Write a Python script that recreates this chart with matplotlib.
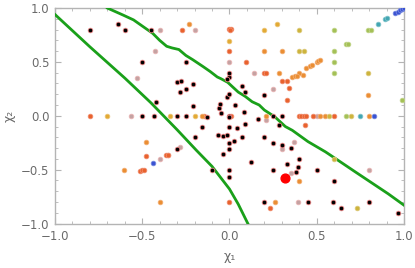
#!/usr/bin/env python3
import numpy as np
import matplotlib
matplotlib.use("Agg")
import matplotlib.pyplot as plt
from matplotlib.ticker import MultipleLocator

# scatter points, grouped by colour (x1, x2)
black_pts = [
    (-0.80, 0.80), (-0.64, 0.85), (-0.60, 0.80), (-0.45, 0.80), (-0.50, 0.50),
    (-0.25, 0.50), (-0.30, 0.31), (-0.28, 0.325), (-0.285, 0.22), (-0.25, 0.25),
    (-0.21, 0.295), (-0.21, 0.09), (-0.42, 0.125), (-0.50, 0.0), (-0.43, 0.0),
    (-0.30, 0.0), (-0.25, 0.0), (-0.13, -0.015), (-0.16, -0.10), (-0.20, -0.20),
    (-0.065, -0.18), (-0.035, -0.185), (-0.015, -0.18), (-0.06, 0.07),
    (-0.05, 0.025), (-0.056, 0.11), (-0.015, 0.175), (0.0, 0.20), (0.0, 0.36),
    (-0.015, 0.34), (0.0, 0.40), (0.07, 0.28), (0.09, 0.22), (0.20, 0.195),
    (0.03, 0.10), (0.085, 0.035), (0.0, 0.0), (0.0, -0.01), (0.165, -0.03),
    (0.25, 0.0), (0.30, 0.0), (0.285, -0.085), (0.09, -0.075), (0.043, -0.115),
    (0.0, -0.105), (0.025, -0.23), (0.07, -0.20), (0.0, -0.255), (0.0, -0.305),
    (0.20, -0.195), (0.25, -0.25), (0.30, -0.275), (0.355, -0.295), (0.40, -0.40),
    (0.125, -0.425), (-0.035, -0.355), (-0.30, -0.305), (-0.10, -0.50),
    (0.0, -0.50), (0.0, -0.565), (0.25, -0.50), (0.33, -0.45), (0.39, -0.475),
    (0.38, -0.52), (0.50, -0.50), (0.60, -0.605), (0.195, -0.80), (0.45, -0.80),
    (0.593, -0.80), (0.80, -0.80), (0.64, -0.855), (0.965, -0.905),
]
grey_pts = [
    (-0.40, 0.80), (-0.20, 0.80), (-0.425, 0.60), (-0.53, 0.35), (-0.565, 0.0),
    (-0.40, -0.40), (-0.35, -0.36), (-0.285, -0.29), (0.0, 0.50), (0.14, 0.40),
    (0.25, 0.25), (0.21, -0.04), (0.30, -0.305), (0.37, -0.245), (0.35, -0.53),
    (0.395, -0.80), (0.80, -0.50), (0.50, 0.0),
]
redorange_pts = [
    (-0.80, 0.0), (-0.145, 0.0), (-0.27, 0.80), (-0.48, -0.37), (-0.365, -0.36),
    (-0.355, -0.36), (-0.51, -0.51), (-0.50, -0.505), (-0.49, -0.50), (0.0, -0.80),
    (0.23, -0.855), (0.0, 0.81), (0.01, 0.81), (0.005, 0.80), (0.0, 0.60),
    (0.097, 0.50), (0.195, 0.40), (0.21, 0.40), (0.30, 0.32), (0.33, 0.325),
    (0.343, 0.26), (0.33, 0.143), (0.01, 0.0), (0.435, -0.085), (0.40, 0.0),
    (0.41, 0.0), (0.425, 0.0), (0.44, 0.0), (0.48, 0.0), (0.60, 0.0),
]
orange_pts = [
    (-0.23, 0.85), (-0.16, 0.0), (-0.48, -0.245), (-0.605, -0.50), (-0.40, -0.80),
    (0.40, -0.605), (0.26, -0.80), (0.20, 0.60), (0.30, 0.60), (0.285, 0.40),
    (0.40, 0.40), (0.42, 0.38), (0.36, 0.36), (0.375, 0.365), (0.387, 0.37),
    (0.44, 0.44), (0.46, 0.46), (0.475, 0.47), (0.50, 0.495), (0.51, 0.51),
    (0.52, 0.515), (0.21, 0.0), (0.52, 0.0), (0.55, 0.0), (0.80, 0.0), (0.795, 0.195),
]
amber_pts = [(-0.70, 0.0), (-0.34, 0.0), (-0.20, 0.0), (0.20, 0.80), (0.27, 0.85), (0.0, 0.69)]
yellow_pts = [
    (0.40, 0.80), (0.40, 0.60), (0.425, 0.60), (0.795, 0.40), (0.57, 0.0),
    (0.695, 0.0), (0.60, -0.405), (0.73, -0.855),
]
lime_pts = [
    (0.60, 0.80), (0.795, 0.80), (0.81, 0.80), (0.60, 0.60), (0.60, 0.50),
    (0.665, 0.67), (0.677, 0.67), (0.60, 0.40), (0.99, 0.145), (0.665, 0.0),
]
teal_pts = [(0.75, 0.0), (0.85, 0.855), (0.89, 0.90), (0.90, 0.91)]
blue_pts = [(-0.44, -0.435), (0.83, 0.0), (0.95, 0.95), (0.965, 0.965), (0.977, 0.978), (0.99, 0.99), (1.0, 1.0)]
highlight_pt = (0.32, -0.575)

# boundary curves
inner_x = [-1.0, -0.8, -0.6, -0.45, -0.3, -0.19, -0.1, 0.0, 0.05, 0.105]
inner_y = [0.94, 0.64, 0.35, 0.12, -0.13, -0.32, -0.47, -0.68, -0.82, -1.0]
outer_x = [-0.70, -0.61, -0.55, -0.44, -0.40, -0.36, -0.33, -0.29, -0.25, -0.21, -0.15,
           -0.11, -0.07, -0.05, -0.01, 0.05, 0.09, 0.13, 0.17, 0.20, 0.26, 0.32, 0.36,
           0.45, 0.55, 0.61, 0.72, 0.91, 1.0]
outer_y = [1.0, 0.935, 0.89, 0.765, 0.70, 0.645, 0.63, 0.615, 0.56, 0.52, 0.455,
           0.41, 0.36, 0.345, 0.31, 0.22, 0.18, 0.13, 0.10, 0.053, -0.01, -0.10, -0.135,
           -0.24, -0.335, -0.40, -0.52, -0.725, -0.83]

groups = [
    (grey_pts, "#c4a2a2", "#e8b4b4"),
    (redorange_pts, "#e8622c", "#f08a6a"),
    (orange_pts, "#ea8e32", "#f2ac70"),
    (amber_pts, "#e2aa34", "#ecc272"),
    (yellow_pts, "#cdb43c", "#dcc878"),
    (lime_pts, "#a4c056", "#c0d488"),
    (teal_pts, "#42a6b2", "#7cc2ca"),
    (blue_pts, "#3a52d2", "#7488e0"),
    (black_pts, "#000000", "#e88080"),
]


def main():
    fig = plt.figure(figsize=(4.15, 2.68), dpi=100)
    ax = fig.add_axes([0.1325, 0.166, 0.841, 0.804])

    ax.plot(inner_x, inner_y, color="#1aa01a", lw=2.0, zorder=3)
    ax.plot(outer_x, outer_y, color="#1aa01a", lw=2.0, zorder=3)

    for pts, face, edge in groups:
        arr = np.array(pts)
        ax.scatter(arr[:, 0], arr[:, 1], s=11, c=face, edgecolors=edge,
                   linewidths=0.6, zorder=4)
    ax.scatter([highlight_pt[0]], [highlight_pt[1]], s=40, c="#ff0000", zorder=5)

    ax.set_xlim(-1, 1)
    ax.set_ylim(-1, 1)
    ax.xaxis.set_major_locator(MultipleLocator(0.5))
    ax.yaxis.set_major_locator(MultipleLocator(0.5))
    ax.xaxis.set_minor_locator(MultipleLocator(0.1))
    ax.yaxis.set_minor_locator(MultipleLocator(0.1))
    fmt = lambda v, _: f"{v:.1f}".replace("-", "\u2212")
    ax.xaxis.set_major_formatter(fmt)
    ax.yaxis.set_major_formatter(fmt)

    frame = "#b4b4b4"
    for sp in ax.spines.values():
        sp.set_color(frame)
        sp.set_linewidth(1.0)
    ax.tick_params(which="both", direction="in", top=True, right=True,
                   color=frame, labelcolor="#6a6a6a", labelsize=8.5)
    ax.tick_params(which="major", length=4, width=0.8)
    ax.tick_params(which="minor", length=2, width=0.6)
    ax.tick_params(axis="x", which="major", pad=5)
    ax.tick_params(axis="y", which="major", pad=4)
    ax.tick_params(top=True, right=True, labeltop=False, labelright=False)

    ax.set_xlabel("χ₁", color="#6a6a6a", fontsize=9, labelpad=5)
    ax.set_ylabel("χ₂", color="#6a6a6a", fontsize=9, labelpad=4)

    fig.savefig("out.png", dpi=100)


if __name__ == "__main__":
    main()
